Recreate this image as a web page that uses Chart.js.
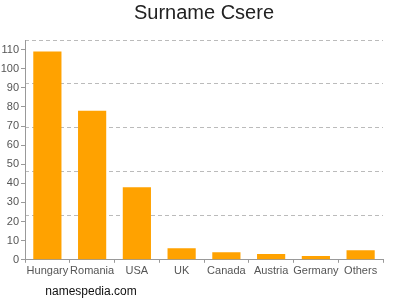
<!DOCTYPE html>
<html>
<head>
<meta charset="utf-8">
<script src="https://cdn.jsdelivr.net/npm/chart.js@4/dist/chart.umd.min.js"></script>
<style>
  html, body { margin: 0; padding: 0; background: #fff; }
  #wrap { width: 400px; height: 300px; position: relative; }
</style>
</head>
<body>
<div id="wrap"><canvas id="surnameChart"></canvas></div>
<script>
// data
const countries = ['Hungary', 'Romania', 'USA', 'UK', 'Canada', 'Austria', 'Germany', 'Others'];
const counts = [109, 78, 38, 6, 4, 3, 2, 5];
const yTicks = [0, 10, 20, 30, 40, 50, 60, 70, 80, 90, 100, 110];
const gridLevels = [0, 23, 46, 69, 92, 115];
const yMax = 115;

const fontFamily = '"Liberation Sans", Arial, sans-serif';

// title on top and site name under the chart
const texts = {
    id: 'texts',
    afterDraw(chart) {
        const ctx = chart.ctx;
        ctx.save();
        ctx.textAlign = 'center';
        ctx.textBaseline = 'middle';
        ctx.fillStyle = '#222';
        ctx.font = '20px ' + fontFamily;
        ctx.fillText('Surname Csere', 204, 13);
        ctx.fillStyle = '#111';
        ctx.font = '12px ' + fontFamily;
        ctx.fillText('namespedia.com', 91, 292);
        ctx.restore();
    }
};

const ctx = document.getElementById('surnameChart').getContext('2d');
const chart = new Chart(ctx, {
    type: 'bar',
    data: {
        labels: countries,
        datasets: [{
            data: counts,
            backgroundColor: '#ffa200',
            borderWidth: 0,
            barPercentage: 0.63,
            categoryPercentage: 1
        }]
    },
    options: {
        responsive: true,
        maintainAspectRatio: false,
        animation: false,
        layout: { padding: { left: 0, right: 17, top: 40, bottom: 20 } },
        plugins: {
            legend: { display: false },
            tooltip: { enabled: false },
            title: { display: false }
        },
        scales: {
            x: {
                grid: { drawOnChartArea: false, tickLength: 3, color: '#999' },
                border: { color: '#999' },
                ticks: {
                    color: '#555',
                    padding: 2,
                    maxRotation: 0,
                    autoSkip: false,
                    font: { family: fontFamily, size: 11 }
                }
            },
            y: {
                min: 0,
                max: yMax,
                afterBuildTicks: scale => { scale.ticks = yTicks.map(v => ({ value: v })); },
                afterFit: scale => { scale.width = 25; },
                grid: { drawOnChartArea: false, tickLength: 4, color: '#999' },
                border: { color: '#999' },
                ticks: {
                    color: '#555',
                    padding: 2,
                    font: { family: fontFamily, size: 11 }
                }
            },
            y2: {
                position: 'right',
                min: 0,
                max: yMax,
                afterBuildTicks: scale => { scale.ticks = gridLevels.map(v => ({ value: v })); },
                afterFit: scale => { scale.width = 0; },
                grid: {
                    drawTicks: false,
                    color: ctx => ctx.tick && ctx.tick.value === 0 ? 'rgba(0,0,0,0)' : '#bbb'
                },
                border: { display: false, dash: [4, 3] },
                ticks: { display: false }
            }
        }
    },
    plugins: [texts]
});
</script>
</body>
</html>
